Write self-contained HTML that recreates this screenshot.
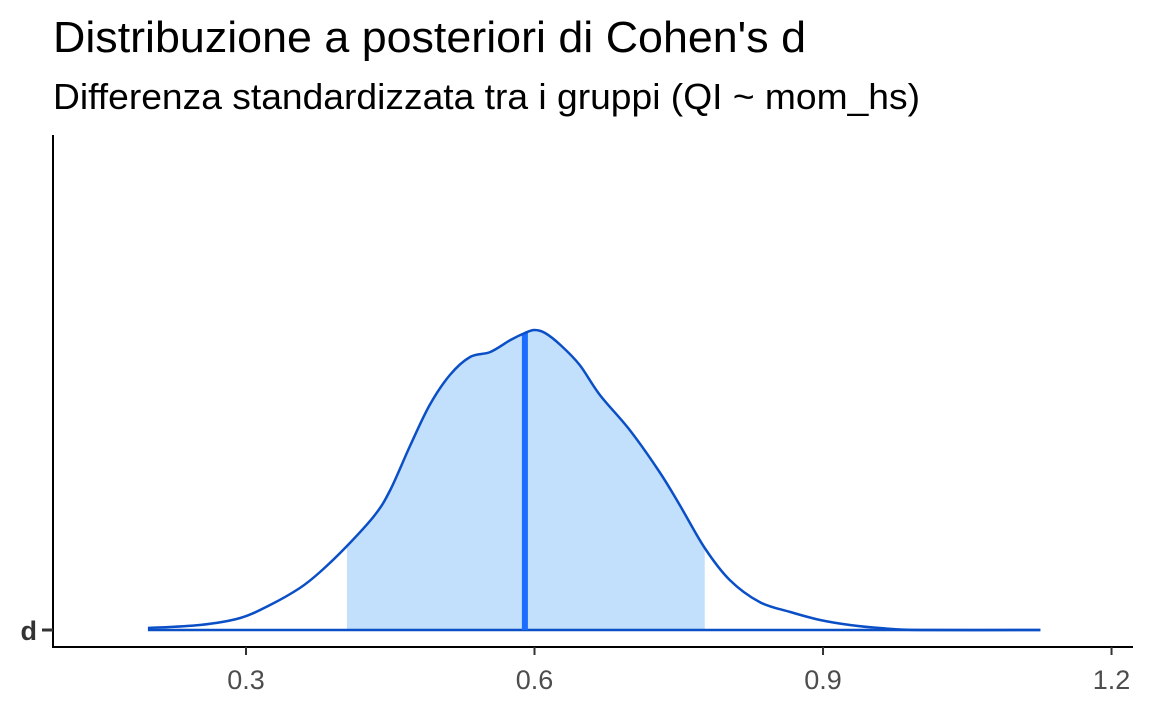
<!DOCTYPE html>
<html><head><meta charset="utf-8"><style>
body{margin:0;background:#fff}
svg{display:block;font-family:"Liberation Sans",Arial,sans-serif}
</style></head><body>
<svg id="chart" width="1152" height="711" viewBox="0 0 1152 711">
<text x="53" y="52" font-size="44" textLength="753" lengthAdjust="spacingAndGlyphs" fill="#000">Distribuzione a posteriori di Cohen's d</text>
<text x="53" y="109" font-size="36" textLength="867" lengthAdjust="spacingAndGlyphs" fill="#000">Differenza standardizzata tra i gruppi (QI ~ mom_hs)</text>
<g id="plot"></g>
</svg>
<script>
const dValues=[0.198,0.252,0.294,0.325,0.356,0.377,0.405,0.434,0.450,0.471,0.491,0.512,0.533,0.554,0.575,0.590,0.600,0.611,0.627,0.647,0.668,0.699,0.730,0.751,0.777,0.803,0.834,0.866,0.897,0.928,0.959,1.001,1.126];
const densities=[2,5,12,25,42,58,84,115,140,185,225,255,273,278,290,297,300,297,285,265,235,200,158,125,82,50,28,18,10,5,2,0,0];
const xTicks=[0.3,0.6,0.9,1.2];
const xTickLabels=["0.3","0.6","0.9","1.2"];
const intervalLow=0.405, intervalHigh=0.777, median=0.59;
const categories=["d"];

const NS="http://www.w3.org/2000/svg";
const g=document.getElementById('plot');
const x=v=>246+(v-0.3)*961.7;
const base=630;
const y=dd=>base-dd;
function mk(t,a){const e=document.createElementNS(NS,t);for(const k in a)e.setAttribute(k,a[k]);g.appendChild(e);return e;}
function dAt(v){for(let i=0;i<dValues.length-1;i++){if(v>=dValues[i]&&v<=dValues[i+1]){const t=(v-dValues[i])/(dValues[i+1]-dValues[i]);return densities[i]+t*(densities[i+1]-densities[i]);}}return 0;}
function smooth(p){let s="M"+p[0][0]+","+p[0][1];for(let i=0;i<p.length-1;i++){const p0=p[i-1]||p[i],p1=p[i],p2=p[i+1],p3=p[i+2]||p2;
 s+=" C"+(p1[0]+(p2[0]-p0[0])/6)+","+(p1[1]+(p2[1]-p0[1])/6)+" "+(p2[0]-(p3[0]-p1[0])/6)+","+(p2[1]-(p3[1]-p1[1])/6)+" "+p2[0]+","+p2[1];}return s;}

let pts=[[intervalLow,dAt(intervalLow)]];
dValues.forEach((v,i)=>{if(v>intervalLow&&v<intervalHigh)pts.push([v,densities[i]]);});
pts.push([intervalHigh,dAt(intervalHigh)]);
let sp=pts.map(p=>[x(p[0]),y(p[1])]);
let dpath="M"+x(intervalLow)+","+base+" L"+smooth(sp).slice(1)+" L"+x(intervalHigh)+","+base+"Z";
let area=mk('path',{d:dpath,fill:'#c2dffc',stroke:'none'});



let bl=mk('line',{x1:x(dValues[0]),x2:x(dValues[dValues.length-1]),y1:base,y2:base,stroke:'#0b4fc7','stroke-width':2.5});



let md=mk('line',{x1:x(median),x2:x(median),y1:base,y2:y(dAt(median)),stroke:'#1a6dff','stroke-width':6});



let cp=smooth(dValues.map((v,i)=>[x(v),y(densities[i])]));
let curve=mk('path',{d:cp,fill:'none',stroke:'#0b4fc7','stroke-width':2.5,'stroke-linejoin':'round'});



let xa=mk('line',{x1:53,x2:1133,y1:647,y2:647,stroke:'#000','stroke-width':2});


let ya=mk('line',{x1:53,x2:53,y1:135,y2:648,stroke:'#000','stroke-width':2});



xTicks.forEach((v,i)=>{
  let t=mk('line',{x1:x(v),x2:x(v),y1:647,y2:655,stroke:'#333','stroke-width':2});
  
  
  let l=mk('text',{x:x(v),y:689,'font-size':27,'text-anchor':'middle',fill:'#4d4d4d'});
  l.textContent=xTickLabels[i];
  
  
});
categories.forEach(c=>{
  let t=mk('line',{x1:42,x2:53,y1:base,y2:base,stroke:'#333','stroke-width':3});
  
  
  let l=mk('text',{x:37,y:base+10,'font-size':27,'font-weight':'bold','text-anchor':'end',fill:'#333'});
  l.textContent=c;
  
  
});
</script>
</body></html>
